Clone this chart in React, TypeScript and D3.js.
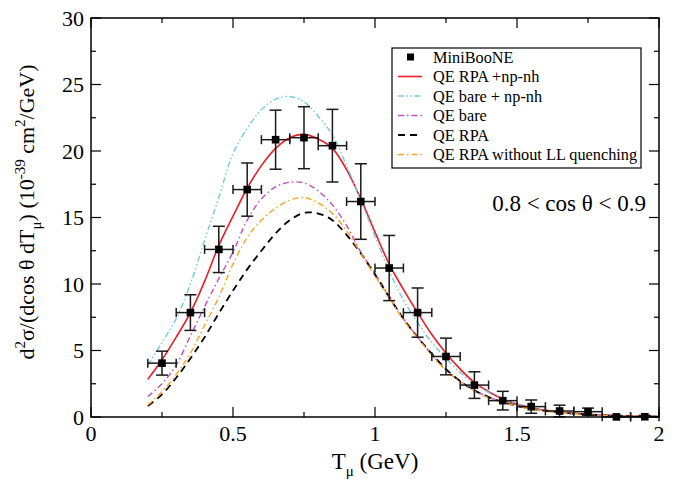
import React from 'react';
import * as d3 from 'd3';

const W = 675;
const H = 481;

// model grid (T_mu in GeV)
const gridX = [0.2, 0.25, 0.3, 0.35, 0.4, 0.45, 0.5, 0.55, 0.6, 0.65, 0.7, 0.75, 0.8, 0.85, 0.9, 0.95, 1.0, 1.05, 1.1, 1.15, 1.2, 1.25, 1.3, 1.35, 1.4, 1.45, 1.5, 1.55, 1.6, 1.65, 1.7, 1.75, 1.8, 1.85, 1.9, 1.95, 2.0];
const rpaNpNh = [2.83, 4.3, 6.0, 7.85, 10.2, 12.9, 15.1, 17.2, 18.9, 20.2, 21.0, 21.25, 20.9, 20.2, 18.6, 16.4, 13.9, 11.5, 9.6, 7.85, 6.2, 4.8, 3.6, 2.6, 1.9, 1.35, 0.95, 0.7, 0.5, 0.38, 0.28, 0.2, 0.14, 0.1, 0.07, 0.05, 0.03];
const bareNpNh = [3.9, 5.6, 7.4, 10.0, 13.3, 16.5, 19.8, 21.7, 23.1, 23.9, 24.1, 23.7, 22.6, 21.2, 18.9, 16.3, 13.6, 11.0, 8.8, 7.1, 5.6, 4.4, 3.35, 2.5, 1.85, 1.3, 0.95, 0.68, 0.48, 0.35, 0.26, 0.19, 0.13, 0.09, 0.06, 0.04, 0.03];
const bare = [1.53, 2.5, 3.9, 6.1, 8.3, 10.4, 12.4, 14.8, 16.4, 17.3, 17.65, 17.6, 17.0, 15.95, 14.4, 12.4, 10.8, 9.1, 7.4, 6.0, 4.7, 3.55, 2.7, 2.0, 1.5, 1.12, 0.85, 0.63, 0.47, 0.35, 0.26, 0.19, 0.14, 0.1, 0.07, 0.05, 0.04];
const rpa = [0.83, 1.7, 2.95, 4.4, 6.0, 7.8, 9.5, 11.1, 12.5, 13.8, 14.8, 15.35, 15.3, 14.8, 13.7, 12.3, 10.7, 9.0, 7.4, 6.0, 4.75, 3.6, 2.7, 2.0, 1.5, 1.12, 0.84, 0.62, 0.46, 0.34, 0.25, 0.18, 0.13, 0.09, 0.06, 0.04, 0.03];
const rpaNoLL = [0.9, 1.9, 3.2, 4.8, 6.9, 9.0, 11.5, 13.5, 14.8, 15.7, 16.3, 16.5, 16.1, 15.3, 14.0, 12.3, 10.6, 9.0, 7.3, 5.95, 4.65, 3.5, 2.65, 1.95, 1.45, 1.1, 0.82, 0.6, 0.45, 0.33, 0.25, 0.18, 0.13, 0.09, 0.06, 0.04, 0.03];

// MiniBooNE data
const dataX = [0.25, 0.35, 0.45, 0.55, 0.65, 0.75, 0.85, 0.95, 1.05, 1.15, 1.25, 1.35, 1.45, 1.55, 1.65, 1.75, 1.85, 1.95];
const dataY = [4.05, 7.85, 12.6, 17.1, 20.85, 21.0, 20.4, 16.2, 11.2, 7.85, 4.55, 2.4, 1.23, 0.78, 0.45, 0.4, 0.01, 0.02];
const dataErr = [0.9, 1.34, 1.74, 2.0, 2.22, 2.33, 2.73, 2.84, 2.45, 1.85, 1.38, 1.0, 0.7, 0.5, 0.44, 0.27, 0.1, 0.1];
const binHalf = 0.05;

const xTicks = [0, 0.5, 1, 1.5, 2];
const xTickLabels = ['0', '0.5', '1', '1.5', '2'];
const xMinor = [0.25, 0.75, 1.25, 1.75];
const yTicks = [0, 5, 10, 15, 20, 25, 30];
const yTickLabels = ['0', '5', '10', '15', '20', '25', '30'];
const yMinor = [2.5, 7.5, 12.5, 17.5, 22.5, 27.5];

const seriesNames = ['QE RPA +np-nh', 'QE bare + np-nh', 'QE bare', 'QE RPA', 'QE RPA without LL quenching'];
const seriesValues = [rpaNpNh, bareNpNh, bare, rpa, rpaNoLL];
const seriesColors = ['#ee1c25', '#6fcbe0', '#bf4fbf', '#000000', '#ffa21f'];
const seriesDash = ['none', '6,2.5,1.5,2.5,1.5,2.5', '6,3,1.5,3', '7,5', '6,3,1.5,3'];
const seriesWidth = [1.6, 1.4, 1.4, 1.8, 1.4];

const FONT = '"Liberation Serif", "Times New Roman", serif';

export default function App() {
  const left = 91, right = 659, top = 18, bottom = 417;
  const x = d3.scaleLinear().domain([0, 2]).range([left, right]);
  const y = d3.scaleLinear().domain([0, 30]).range([bottom, top]);

  const line = d3
    .line<number>()
    .x((_, i) => x(gridX[i]))
    .y((d) => y(d))
    .curve(d3.curveCatmullRom.alpha(0.5));

  const majorLen = 10;
  const minorLen = 5;

  const legX = 392, legY = 48, legW = 249, legH = 120;
  const rowY = (i: number) => 57 + i * 19.5;

  return (
    <svg width={W} height={H} style={{ position: 'absolute', left: 0, top: 0, background: '#fff' }} fontFamily={FONT}>
      <rect x={0} y={0} width={W} height={H} fill="#fff" />
      <defs>
        <clipPath id="plotclip">
          <rect x={left} y={top} width={right - left} height={bottom - top} />
        </clipPath>
      </defs>

      {/* curves */}
      <g clipPath="url(#plotclip)">
        {seriesValues.map((vals, k) => (
          <path
            key={seriesNames[k]}
            d={line(vals) || ''}
            fill="none"
            stroke={seriesColors[k]}
            strokeWidth={seriesWidth[k]}
            strokeDasharray={seriesDash[k]}
          />
        ))}
      </g>

      {/* data points */}
      <g stroke="#1a1a1a" strokeWidth={1.5}>
        {dataX.map((dx, i) => {
          const cx = x(dx);
          const cy = y(dataY[i]);
          const yt = y(dataY[i] + dataErr[i]);
          const yb = y(Math.max(0, dataY[i] - dataErr[i]));
          const xl = x(dx - binHalf);
          const xr = x(dx + binHalf);
          return (
            <g key={i}>
              <line x1={cx} x2={cx} y1={yt} y2={yb} />
              <line x1={cx - 6} x2={cx + 6} y1={yt} y2={yt} />
              <line x1={cx - 6} x2={cx + 6} y1={yb} y2={yb} />
              <line x1={xl} x2={xr} y1={cy} y2={cy} />
              <line x1={xl} x2={xl} y1={cy - 4.5} y2={cy + 4.5} />
              <line x1={xr} x2={xr} y1={cy - 4.5} y2={cy + 4.5} />
              <rect x={cx - 3.8} y={cy - 3.8} width={7.6} height={7.6} fill="#000" stroke="none" />
            </g>
          );
        })}
      </g>

      {/* frame */}
      <rect x={left} y={top} width={right - left} height={bottom - top} fill="none" stroke="#000" strokeWidth={1.5} />

      {/* ticks */}
      <g stroke="#000" strokeWidth={1.2}>
        {xTicks.map((t) => (
          <g key={'xt' + t}>
            <line x1={x(t)} x2={x(t)} y1={bottom} y2={bottom - majorLen} />
            <line x1={x(t)} x2={x(t)} y1={top} y2={top + majorLen} />
          </g>
        ))}
        {xMinor.map((t) => (
          <g key={'xm' + t}>
            <line x1={x(t)} x2={x(t)} y1={bottom} y2={bottom - minorLen} />
            <line x1={x(t)} x2={x(t)} y1={top} y2={top + minorLen} />
          </g>
        ))}
        {yTicks.map((t) => (
          <g key={'yt' + t}>
            <line x1={left} x2={left + majorLen} y1={y(t)} y2={y(t)} />
            <line x1={right} x2={right - majorLen} y1={y(t)} y2={y(t)} />
          </g>
        ))}
        {yMinor.map((t) => (
          <g key={'ym' + t}>
            <line x1={left} x2={left + minorLen} y1={y(t)} y2={y(t)} />
            <line x1={right} x2={right - minorLen} y1={y(t)} y2={y(t)} />
          </g>
        ))}
      </g>

      {/* tick labels */}
      <g fontSize={22} fill="#000">
        {xTicks.map((t, i) => (
          <text key={'xl' + t} x={x(t)} y={441} textAnchor="middle">
            {xTickLabels[i]}
          </text>
        ))}
        {yTicks.map((t, i) => (
          <text key={'yl' + t} x={84} y={y(t) + 7.5} textAnchor="end">
            {yTickLabels[i]}
          </text>
        ))}
      </g>

      {/* axis titles */}
      <text x={375} y={469} textAnchor="middle" fontSize={23}>
        T<tspan dy={7} fontSize={15}>μ</tspan>
        <tspan dy={-7}> (GeV)</tspan>
      </text>
      <text transform="translate(34,212) rotate(-90)" textAnchor="middle" fontSize={22}>
        d<tspan dy={-9} fontSize={15}>2</tspan>
        <tspan dy={9}>σ/(dcos θ dT</tspan>
        <tspan dy={7} fontSize={15}>μ</tspan>
        <tspan dy={-7}>) (10</tspan>
        <tspan dy={-9} fontSize={15}>-39</tspan>
        <tspan dy={9}> cm</tspan>
        <tspan dy={-9} fontSize={15}>2</tspan>
        <tspan dy={9}>/GeV)</tspan>
      </text>

      {/* annotation */}
      <text x={646} y={211} textAnchor="end" fontSize={23}>
        0.8 &lt; cos θ &lt; 0.9
      </text>

      {/* legend */}
      <g>
        <rect x={legX} y={legY} width={legW} height={legH} fill="#fff" stroke="#000" strokeWidth={1.2} />
        <rect x={410.5 - 3.5} y={rowY(0) - 3.5} width={7} height={7} fill="#000" />
        <text x={433} y={rowY(0) + 5.5} fontSize={16.3}>MiniBooNE</text>
        {seriesNames.map((name, k) => (
          <g key={'leg' + k}>
            <line
              x1={398}
              x2={422}
              y1={rowY(k + 1)}
              y2={rowY(k + 1)}
              stroke={seriesColors[k]}
              strokeWidth={seriesWidth[k]}
              strokeDasharray={seriesDash[k]}
            />
            <text x={433} y={rowY(k + 1) + 5.5} fontSize={16.3}>
              {name}
            </text>
          </g>
        ))}
      </g>
    </svg>
  );
}
